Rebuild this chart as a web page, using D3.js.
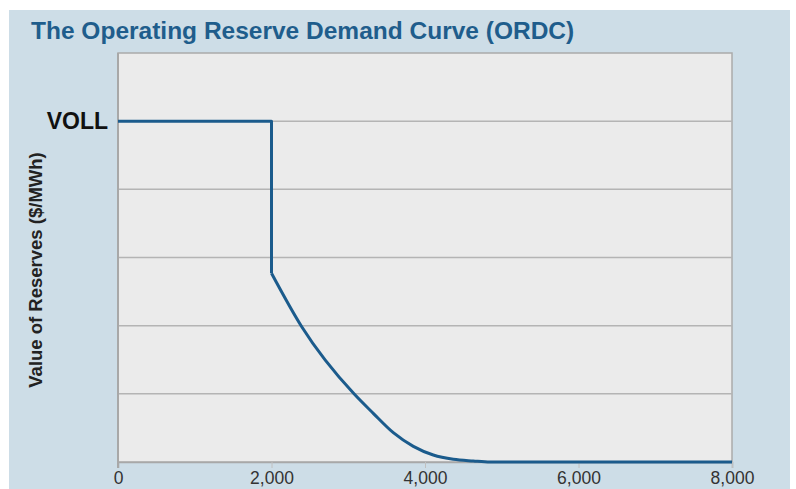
<!DOCTYPE html>
<html><head><meta charset="utf-8">
<script src="https://cdn.jsdelivr.net/npm/d3@7"></script>
<style>html,body{margin:0;padding:0;background:#fff;}svg{display:block;}</style>
</head><body>
<svg id="c" width="796" height="489"></svg>
<script>
// Data
const stepMW = [0, 2000, 2000];
const stepValue = [5, 5, 2.77];
const curveMW = [2000, 2394, 3075, 3326, 3587, 3848, 4108, 4369, 4629, 4847, 8000];
const curveValue = [2.77, 1.985, 1.0, 0.714, 0.43, 0.23, 0.103, 0.04, 0.015, 0, 0];
const xTicks = [0, 2000, 4000, 6000, 8000];
const yGrid = [1, 2, 3, 4, 5];
const vollLevel = 5;
const titleText = "The Operating Reserve Demand Curve (ORDC)";
const yTitle = "Value of Reserves ($/MWh)";

const font = "Liberation Sans, Arial, sans-serif";
const svg = d3.select("#c");
const m = {l:118, t:53, r:732, b:462};
svg.append("rect").attr("x",9).attr("y",10).attr("width",781).attr("height",479).attr("fill","#cddde7");
svg.append("rect").attr("x",m.l).attr("y",m.t).attr("width",m.r-m.l).attr("height",m.b-m.t).attr("fill","#ebebeb").attr("stroke","#ababab").attr("stroke-width",1.5);

const x = d3.scaleLinear().domain([0,8000]).range([m.l,m.r]);
const y = d3.scaleLinear().domain([0,6]).range([m.b,m.t]);

svg.append("g").selectAll("line").data(yGrid).join("line")
  .attr("x1",m.l).attr("x2",m.r).attr("y1",d=>y(d)).attr("y2",d=>y(d))
  .attr("stroke","#b4b4b4").attr("stroke-width",1.5);

const xa = svg.append("g").attr("transform",`translate(0,${m.b})`)
  .call(d3.axisBottom(x).tickValues(xTicks).tickFormat(d3.format(",")).tickSize(6).tickPadding(4));
xa.select(".domain").attr("stroke","#a8a8a8").attr("stroke-width",1.5);
xa.selectAll(".tick line").attr("stroke","#c0c0c0");
xa.selectAll("text").attr("font-family",font).attr("font-size",17.5).attr("fill","#333");

svg.append("line").attr("x1",m.l).attr("x2",m.l).attr("y1",m.t).attr("y2",m.b+6).attr("stroke","#a8a8a8").attr("stroke-width",2);

const line = d3.line().x(d=>x(d[0])).y(d=>y(d[1]));
const stepPts = stepMW.map((d,i)=>[d,stepValue[i]]);
const curvePts = curveMW.map((d,i)=>[d,curveValue[i]]);
svg.append("path").datum(stepPts).attr("d", line)
  .attr("fill","none").attr("stroke","#1b5b8c").attr("stroke-width",3).attr("stroke-linejoin","round");
svg.append("path").datum(curvePts).attr("d", line.curve(d3.curveMonotoneX))
  .attr("fill","none").attr("stroke","#1b5b8c").attr("stroke-width",3).attr("stroke-linejoin","round");

svg.append("text").attr("x",108).attr("y",y(vollLevel)).attr("dy","0.35em").attr("text-anchor","end")
  .attr("font-family",font).attr("font-weight","bold").attr("font-size",23).attr("fill","#111").text("VOLL");

svg.append("text").attr("transform",`translate(42,270) rotate(-90)`).attr("text-anchor","middle")
  .attr("font-family",font).attr("font-weight","bold").attr("font-size",18.5).attr("fill","#222").text(yTitle);

svg.append("text").attr("x",31).attr("y",38.5)
  .attr("font-family",font).attr("font-weight","bold").attr("font-size",24.5).attr("fill","#1f5d8c").text(titleText);
</script>
</body></html>
